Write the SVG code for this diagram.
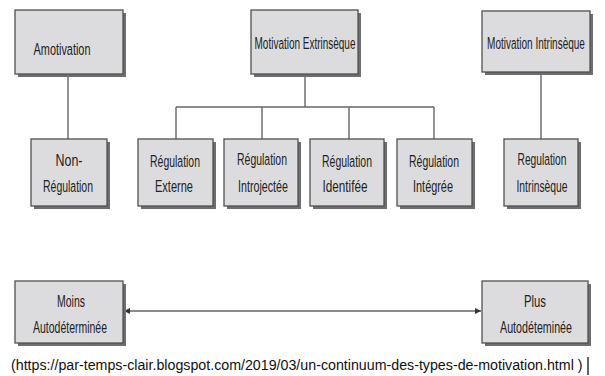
<svg xmlns="http://www.w3.org/2000/svg" width="605" height="376" viewBox="0 0 605 376">
  <style>
    .box { fill: #dcdcde; stroke: #505050; stroke-width: 1.3; }
    .shadow { fill: #6e6e6e; }
    .lbl { font-family: "Liberation Sans", Arial, sans-serif; font-size: 16.5px; fill: #222; text-anchor: middle; }
    .link { fill: none; stroke: #666; stroke-width: 1.4; }
    .cap { font-family: "Liberation Sans", Arial, sans-serif; font-size: 15px; fill: #111; }
  </style>
  <defs>
    <marker id="arrow" viewBox="0 0 6 6" refX="6" refY="3" markerWidth="6" markerHeight="6" markerUnits="userSpaceOnUse" orient="auto-start-reverse">
      <path d="M0,0 L6,3 L0,6 Z" fill="#333"/>
    </marker>
  </defs>
  <rect width="605" height="376" fill="#ffffff"/>

  <!-- connectors -->
  <g id="connectors">
    <line class="link" x1="68" y1="74" x2="68" y2="139"/>
    <line class="link" x1="305" y1="74" x2="305" y2="107"/>
    <line class="link" x1="176" y1="107" x2="434" y2="107"/>
    <line class="link" x1="176" y1="107" x2="176" y2="139"/>
    <line class="link" x1="262" y1="107" x2="262" y2="139"/>
    <line class="link" x1="349" y1="107" x2="349" y2="139"/>
    <line class="link" x1="434" y1="107" x2="434" y2="139"/>
    <line class="link" x1="541" y1="72" x2="541" y2="139"/>
    <line class="link" x1="124" y1="311" x2="481" y2="311" marker-start="url(#arrow)" marker-end="url(#arrow)"/>
  </g>

  <!-- top row; labels are horizontally condensed with a scale transform -->
  <g id="amotivation">
    <rect class="shadow" x="18" y="13" width="108" height="64"/>
    <rect class="box" x="15" y="10" width="108" height="64"/>
    <text class="lbl" transform="matrix(0.661 0 0 1 62 55)">Amotivation</text>
  </g>
  <g id="motivation-extrinseque">
    <rect class="shadow" x="254" y="13" width="107" height="64"/>
    <rect class="box" x="251" y="10" width="107" height="64"/>
    <text class="lbl" transform="matrix(0.605 0 0 1 305 49)">Motivation Extrinsèque</text>
  </g>
  <g id="motivation-intrinseque">
    <rect class="shadow" x="485" y="14" width="108" height="61"/>
    <rect class="box" x="482" y="11" width="108" height="61"/>
    <text class="lbl" transform="matrix(0.607 0 0 1 536 49)">Motivation Intrinsèque</text>
  </g>

  <!-- second row -->
  <g id="non-regulation">
    <rect class="shadow" x="34" y="142" width="76" height="67"/>
    <rect class="box" x="31" y="139" width="76" height="67"/>
    <text class="lbl" transform="matrix(0.755 0 0 1 69 166)">Non-</text>
    <text class="lbl" transform="matrix(0.634 0 0 1 68 192)">Régulation</text>
  </g>
  <g id="regulation-externe">
    <rect class="shadow" x="141" y="142" width="75" height="67"/>
    <rect class="box" x="138" y="139" width="75" height="67"/>
    <text class="lbl" transform="matrix(0.634 0 0 1 175 167)">Régulation</text>
    <text class="lbl" transform="matrix(0.668 0 0 1 174 192)">Externe</text>
  </g>
  <g id="regulation-introjectee">
    <rect class="shadow" x="227" y="142" width="74" height="67"/>
    <rect class="box" x="224" y="139" width="74" height="67"/>
    <text class="lbl" transform="matrix(0.634 0 0 1 262 165)">Régulation</text>
    <text class="lbl" transform="matrix(0.649 0 0 1 263 192)">Introjectée</text>
  </g>
  <g id="regulation-identifiee">
    <rect class="shadow" x="313" y="142" width="74" height="67"/>
    <rect class="box" x="310" y="139" width="74" height="67"/>
    <text class="lbl" transform="matrix(0.634 0 0 1 347 167)">Régulation</text>
    <text class="lbl" transform="matrix(0.711 0 0 1 345 192)">Identifée</text>
  </g>
  <g id="regulation-integree">
    <rect class="shadow" x="400" y="142" width="75" height="67"/>
    <rect class="box" x="397" y="139" width="75" height="67"/>
    <text class="lbl" transform="matrix(0.634 0 0 1 434 167)">Régulation</text>
    <text class="lbl" transform="matrix(0.661 0 0 1 433 192)">Intégrée</text>
  </g>
  <g id="regulation-intrinseque">
    <rect class="shadow" x="507" y="142" width="74" height="67"/>
    <rect class="box" x="504" y="139" width="74" height="67"/>
    <text class="lbl" transform="matrix(0.621 0 0 1 542 165)">Regulation</text>
    <text class="lbl" transform="matrix(0.625 0 0 1 542 192)">Intrinsèque</text>
  </g>

  <!-- continuum -->
  <g id="moins-autodeterminee">
    <rect class="shadow" x="18" y="284" width="108" height="62"/>
    <rect class="box" x="15" y="281" width="108" height="62"/>
    <text class="lbl" transform="matrix(0.636 0 0 1 71 307)">Moins</text>
    <text class="lbl" transform="matrix(0.635 0 0 1 70 333)">Autodéterminée</text>
  </g>
  <g id="plus-autodeterminee">
    <rect class="shadow" x="485" y="284" width="106" height="62"/>
    <rect class="box" x="482" y="281" width="106" height="62"/>
    <text class="lbl" transform="matrix(0.685 0 0 1 535 307)">Plus</text>
    <text class="lbl" transform="matrix(0.649 0 0 1 536 333)">Autodéteminée</text>
  </g>

  <!-- source caption -->
  <text class="cap" transform="matrix(0.949 0 0 1 11 370)">(https://par-temps-clair.blogspot.com/2019/03/un-continuum-des-types-de-motivation.html )</text>
  <line x1="588" y1="357" x2="588" y2="375" stroke="#111" stroke-width="1.3"/>
</svg>
